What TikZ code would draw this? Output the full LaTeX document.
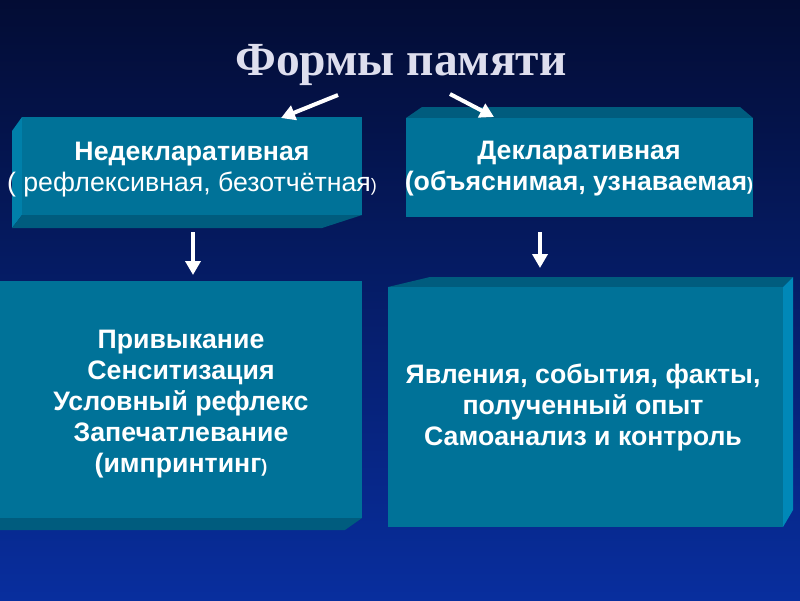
\documentclass[tikz,border=0pt]{standalone}
\usepackage{fontspec}
\setmainfont{Liberation Sans}
\newfontfamily\titlefont{Liberation Serif}
\usetikzlibrary{arrows.meta}
\definecolor{bgtop}{RGB}{3,12,52}
\definecolor{bgbot}{RGB}{8,46,158}
\definecolor{frontc}{RGB}{0,114,152}
\definecolor{sidelight}{RGB}{0,128,170}
\definecolor{sidedark}{RGB}{0,92,126}
\definecolor{sidebright}{RGB}{0,136,184}
\definecolor{titlec}{RGB}{222,222,238}
\tikzset{
  frontbox/.style={fill=frontc, draw=none, anchor=north west, align=center, text=white, inner sep=0pt},
  bodytext/.style={font=\fontsize{26.7}{31}\selectfont\bfseries},
  wharrow/.style={draw=white, line width=4pt, -{Triangle[width=15pt,length=14pt]}},
}
\begin{document}
\begin{tikzpicture}[x=1pt,y=-1pt]
\shade[top color=bgtop, bottom color=bgbot] (0,0) rectangle (800,600);
\useasboundingbox (0,0) rectangle (800,600);

% title
\node[text=titlec, font=\titlefont\bfseries\fontsize{47.5}{52}\selectfont] (title) at (401,65) {Формы памяти};

% box 1: non-declarative
\fill[sidelight] (22,117) -- (22,215) -- (12,228) -- (12,131) -- cycle;
\fill[sidedark] (22,215) -- (362,215) -- (322,228) -- (12,228) -- cycle;
\node[frontbox, minimum width=340pt, minimum height=98pt] (nd) at (22,117) {};
\node[text=white, align=center, font=\fontsize{26.7}{31}\selectfont] (ndt) at (192,170)
  {\bfseries Недекларативная\\( рефлексивная, безотчётная{\fontsize{18}{20}\selectfont)}};

% box 2: declarative
\fill[sidedark] (406,118) -- (422,107) -- (740,107) -- (753,118) -- cycle;
\node[frontbox, minimum width=347pt, minimum height=99pt] (dc) at (406,118) {};
\node[text=white, align=center, bodytext] (dct) at (579,169)
  {Декларативная\\(объяснимая, узнаваемая{\fontsize{18}{20}\selectfont)}};

% box 3
\fill[sidedark] (0,518) -- (362,518) -- (345,530) -- (0,530) -- cycle;
\node[frontbox, minimum width=362pt, minimum height=237pt] (nb) at (0,281) {};
\node[text=white, align=center, bodytext] (nbt) at (181,404)
  {Привыкание\\Сенситизация\\Условный рефлекс\\Запечатлевание\\(импринтинг{\fontsize{18}{20}\selectfont)}};

% box 4
\fill[sidedark] (388,287) -- (430,277) -- (793,277) -- (783,287) -- cycle;
\fill[sidebright] (783,287) -- (793,277) -- (793,510) -- (783,527) -- cycle;
\node[frontbox, minimum width=395pt, minimum height=240pt] (db) at (388,287) {};
\node[text=white, align=center, bodytext] (dbt) at (583,407)
  {Явления, события, факты,\\полученный опыт\\Самоанализ и контроль};

% arrows
\coordinate (t1) at (338,95);
\coordinate (h1) at (281,118);
\coordinate (t2) at (450,94);
\coordinate (h2) at (494,117);
\coordinate (t3) at (193,232);
\coordinate (h3) at (193,275);
\coordinate (t4) at (540,232);
\coordinate (h4) at (540,268);
\draw[wharrow] (t1) -- (h1);
\draw[wharrow] (t2) -- (h2);
\draw[wharrow] (t3) -- (h3);
\draw[wharrow] (t4) -- (h4);
\end{tikzpicture}
\end{document}
